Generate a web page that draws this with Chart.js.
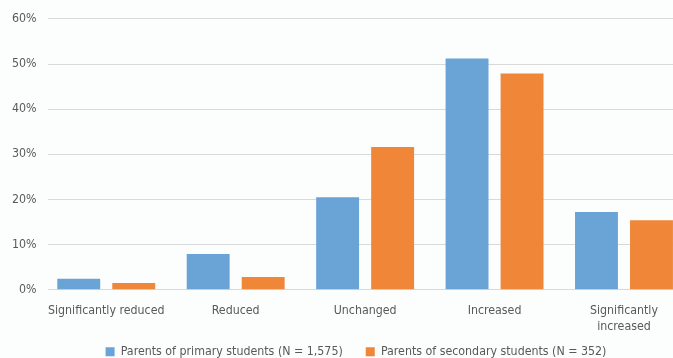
<!DOCTYPE html>
<html>
<head>
<meta charset="utf-8">
<script src="https://cdn.jsdelivr.net/npm/chart.js@4"></script>
<style>
  html, body { margin: 0; padding: 0; background: #fcfdfd; overflow: hidden; }
  #wrap { position: absolute; left: 0; top: 0; width: 712px; height: 368px; }
</style>
</head>
<body>
<div id="wrap"><canvas id="c"></canvas></div>
<script>
const categories = ['Significantly reduced', 'Reduced', 'Unchanged', 'Increased', ['Significantly', 'increased']];
const primaryValues = [2.4, 7.9, 20.5, 51.2, 17.2];
const secondaryValues = [1.5, 2.8, 31.6, 47.9, 15.4];
const seriesLabels = ['Parents of primary students (N = 1,575)', 'Parents of secondary students (N = 352)'];
const yTicks = [0, 10, 20, 30, 40, 50, 60];

const FONT = "'DejaVu Sans Condensed', 'Roboto', sans-serif";
const TEXT = '#595959';

// categories sit on integer positions of a linear x axis
const toPoints = values => values.map((v, i) => ({ x: i, y: v }));

// the x axis is kept short so the legend sits close; let its two-line labels draw past its box
const unclipXLabels = {
  id: 'unclipXLabels',
  beforeDraw(chart) { chart.scales.x.bottom = chart.height; }
};

new Chart(document.getElementById('c'), {
  type: 'bar',
  data: {
    datasets: [
      { label: seriesLabels[0], data: toPoints(primaryValues), backgroundColor: '#6aa3d6' },
      { label: seriesLabels[1], data: toPoints(secondaryValues), backgroundColor: '#ef8638' }
    ]
  },
  plugins: [unclipXLabels],
  options: {
    responsive: true,
    maintainAspectRatio: false,
    animation: false,
    categoryPercentage: 0.85,
    barPercentage: 0.78,
    layout: { padding: { top: 18, right: 0, left: 0, bottom: 0 } },
    plugins: {
      tooltip: { enabled: false },
      legend: {
        position: 'bottom',
        labels: {
          color: TEXT,
          font: { family: FONT, size: 12.3 },
          boxWidth: 9,
          boxHeight: 9,
          padding: 23
        }
      }
    },
    scales: {
      x: {
        type: 'linear',
        offset: false,
        min: -0.45,
        max: 4.68,
        afterBuildTicks: axis => { axis.ticks = categories.map((c, i) => ({ value: i })); },
        afterFit: axis => { axis.height = 33; },
        grid: { display: false },
        border: { display: false },
        ticks: {
          color: TEXT,
          font: { family: FONT, size: 12.3, lineHeight: 1.3 },
          maxRotation: 0,
          autoSkip: false,
          padding: 5,
          callback: v => categories[v]
        }
      },
      y: {
        min: 0,
        max: 60,
        afterBuildTicks: axis => { axis.ticks = yTicks.map(v => ({ value: v })); },
        afterFit: axis => { axis.width = 48; },
        grid: { color: '#d9d9d9', drawTicks: false },
        border: { display: false },
        ticks: { color: TEXT, font: { family: FONT, size: 12.3 }, padding: 11.5, callback: v => v + '%' }
      }
    }
  }
});
</script>
</body>
</html>
